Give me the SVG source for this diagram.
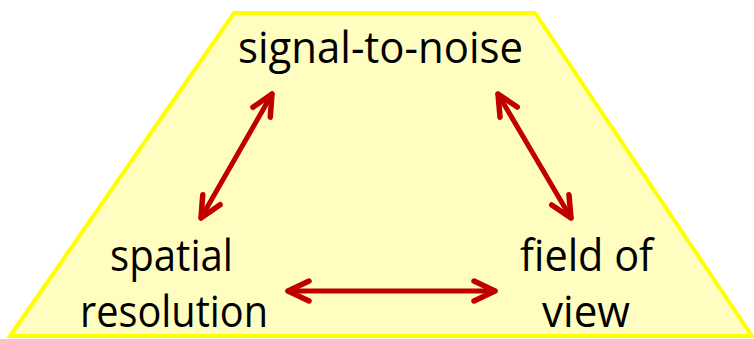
<svg xmlns="http://www.w3.org/2000/svg" width="754" height="339" viewBox="0 0 754 339">
  <defs>
    <style>
      .lbl { font-family: "Open Sans", "Noto Sans", "DejaVu Sans", sans-serif; font-size: 43px; fill: #000000; text-anchor: middle; }
      .arr { stroke: #C00000; stroke-width: 5; fill: none; stroke-linecap: round; }
    </style>
    <marker id="head" markerUnits="userSpaceOnUse" viewBox="-28 -14 32 28" refX="0" refY="0" markerWidth="32" markerHeight="28" orient="auto-start-reverse" overflow="visible">
      <path d="M -21,-10 L 0,0 L -21,10" fill="none" stroke="#C00000" stroke-width="5.5" stroke-linecap="round" stroke-linejoin="round"/>
    </marker>
  </defs>
  <rect width="754" height="339" fill="#ffffff"/>
  <g id="frame">
    <polygon points="234,13 535,13 752,336 10,336" fill="#FFFEC0" stroke="#FFFF00" stroke-width="4" stroke-linejoin="miter"/>
  </g>
  <g id="connectors">
    <line class="arr" x1="201" y1="218" x2="272" y2="94" marker-start="url(#head)" marker-end="url(#head)"/>
    <line class="arr" x1="498" y1="94" x2="571" y2="218" marker-start="url(#head)" marker-end="url(#head)"/>
    <line class="arr" x1="288" y1="291" x2="495" y2="291" marker-start="url(#head)" marker-end="url(#head)"/>
  </g>
  <g id="node-snr">
    <text class="lbl" x="380.5" y="63" textLength="285" lengthAdjust="spacingAndGlyphs">signal-to-noise</text>
  </g>
  <g id="node-spatial">
    <text class="lbl" x="171.5" y="271" textLength="123" lengthAdjust="spacingAndGlyphs">spatial</text>
    <text class="lbl" x="174" y="327" textLength="188" lengthAdjust="spacingAndGlyphs">resolution</text>
  </g>
  <g id="node-fov">
    <text class="lbl" x="586.5" y="271" textLength="133" lengthAdjust="spacingAndGlyphs">field of</text>
    <text class="lbl" x="586" y="327" textLength="88" lengthAdjust="spacingAndGlyphs">view</text>
  </g>
</svg>
